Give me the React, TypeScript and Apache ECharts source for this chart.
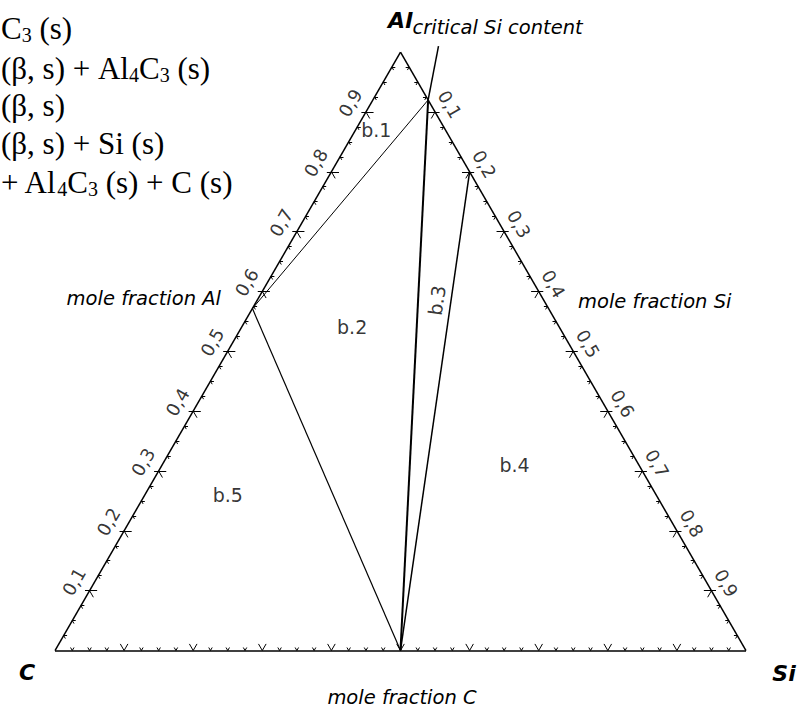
import React, { useEffect, useRef } from 'react';
import * as echarts from 'echarts';

const H = Math.sqrt(3) / 2;

// Edge tick labels (mole fractions with decimal comma)
const tickValues = [0.1, 0.2, 0.3, 0.4, 0.5, 0.6, 0.7, 0.8, 0.9];
const tickLabels = ['0,1', '0,2', '0,3', '0,4', '0,5', '0,6', '0,7', '0,8', '0,9'];
const minorStep = 0.025;

// Compositions as [C, Al, Si] mole fractions
const ptC = [1, 0, 0];
const ptAl = [0, 1, 0];
const ptSi = [0, 0, 1];
const ptAl4C3 = [3 / 7, 4 / 7, 0];
const ptSiC = [0.5, 0, 0.5];
const ptLiqCritical = [0, 0.92, 0.08];
const ptLiqSat = [0, 0.8, 0.2];
const ptPointerEnd = [-0.06, 1.01, 0.05];

// Phase-field labels and their compositions
const regionNames = ['b.1', 'b.2', 'b.3', 'b.4', 'b.5'];
const regionComps = [
  [0.1, 0.87, 0.03],
  [0.3, 0.54, 0.16],
  [0.155, 0.585, 0.26],
  [0.18, 0.31, 0.51],
  [0.62, 0.26, 0.12],
];
const regionRotate = [0, 0, 82, 0, 0];

// Phase assemblages of the fields (rich-text markup for subscripts)
const legendLines = [
  '{n|C}{s|3}{n| (s)}',
  '{n|(β, s) + Al}{s|4}{n|C}{s|3}{n| (s)}',
  '{n|(β, s)}',
  '{n|(β, s) + Si (s)}',
  '{n|+ Al}{s|4}{n|C}{s|3}{n| (s) + C (s)}',
];
const legendY = [28, 68, 105, 143, 182];

const toXY = (p: number[]) => [p[2] + p[1] / 2, p[1] * H];

const SANS = 'DejaVu Sans';
const SERIF = 'Liberation Serif';

function buildTicks() {
  const segs: any[] = [];
  const n = Math.round(1 / minorStep);
  for (let i = 1; i < n; i++) {
    const f = i * minorStep;
    const major = i % 4 === 0;
    const len = major ? 0.011 : 0.005;
    // bottom edge: C fraction
    const b = [1 - f, 0];
    // left edge: Al fraction
    const l = [f / 2, f * H];
    // right edge: Si fraction
    const r = [f + (1 - f) / 2, (1 - f) * H];
    const dirs: [number[], number[][]][] = [
      [b, [[-0.5, H], [0.5, H]]],
      [l, major ? [[1, 0], [0.5, -H], [-0.6, 0]] : [[1, 0], [0.5, -H]]],
      [r, major ? [[-1, 0], [-0.5, -H], [0.6, 0]] : [[-1, 0], [-0.5, -H]]],
    ];
    dirs.forEach(([p, ds]) => {
      ds.forEach((d) => {
        segs.push({ coords: [p, [p[0] + d[0] * len, p[1] + d[1] * len]] });
      });
    });
  }
  return segs;
}

function buildOption() {
  const off = 0.026;
  const bottomLabels = tickValues.map((v, i) => ({
    name: tickLabels[i],
    value: [1 - v, -0.0285],
  }));
  const leftLabels = tickValues.map((v, i) => ({
    name: tickLabels[i],
    value: [v / 2 - off * H, v * H + off * 0.5],
  }));
  const rightLabels = tickValues.map((v, i) => ({
    name: tickLabels[i],
    value: [v + (1 - v) / 2 + off * H * 0.95, (1 - v) * H + off * 0.42],
  }));

  const tickLabelStyle = {
    show: true,
    position: 'inside',
    formatter: '{b}',
    color: '#000',
    fontFamily: SANS,
    fontSize: 18,
  };

  const labelSeries = (data: any[], rotate: number) => ({
    type: 'scatter',
    symbolSize: 0,
    silent: true,
    data,
    label: { ...tickLabelStyle, rotate },
  });

  const boundaries = [
    { coords: [toXY(ptAl4C3), toXY(ptLiqCritical)], lineStyle: { width: 1 } },
    { coords: [toXY(ptAl4C3), toXY(ptSiC)], lineStyle: { width: 1.2 } },
    { coords: [toXY(ptLiqCritical), toXY(ptSiC)], lineStyle: { width: 2 } },
    { coords: [toXY(ptLiqSat), toXY(ptSiC)], lineStyle: { width: 1.5 } },
    { coords: [toXY(ptLiqCritical), toXY(ptPointerEnd)], lineStyle: { width: 1.5 } },
  ];

  return {
    animation: false,
    backgroundColor: '#fff',
    grid: { left: 55, right: 53, top: 52.1, bottom: 58.5 },
    xAxis: { type: 'value', min: 0, max: 1, show: false },
    yAxis: { type: 'value', min: 0, max: H, show: false },
    series: [
      {
        type: 'lines',
        coordinateSystem: 'cartesian2d',
        silent: true,
        clip: false,
        lineStyle: { color: '#000', width: 1.5, opacity: 1, curveness: 0 },
        data: [
          { coords: [toXY(ptC), toXY(ptSi)] },
          { coords: [toXY(ptSi), toXY(ptAl)] },
          { coords: [toXY(ptAl), toXY(ptC)] },
        ],
      },
      {
        type: 'lines',
        coordinateSystem: 'cartesian2d',
        silent: true,
        clip: false,
        lineStyle: { color: '#000', width: 1, opacity: 1, curveness: 0 },
        data: buildTicks(),
      },
      {
        type: 'lines',
        coordinateSystem: 'cartesian2d',
        silent: true,
        clip: false,
        lineStyle: { color: '#000', width: 1, opacity: 1, curveness: 0 },
        data: boundaries,
      },
      labelSeries(bottomLabels, 0),
      labelSeries(leftLabels, 60),
      labelSeries(rightLabels, -60),
      {
        type: 'scatter',
        symbolSize: 0,
        silent: true,
        data: regionNames.map((nm, i) => ({
          name: nm,
          value: toXY(regionComps[i]),
          label: { rotate: regionRotate[i] },
        })),
        label: { ...tickLabelStyle, fontSize: 19 },
      },
    ],
    graphic: [
      ...legendLines.map((t, i) => ({
        type: 'text',
        x: 1,
        y: legendY[i],
        silent: true,
        style: {
          text: t,
          align: 'left',
          verticalAlign: 'middle',
          rich: {
            n: { fontFamily: SERIF, fontSize: 31, lineHeight: 34, fill: '#000', verticalAlign: 'middle' },
            s: { fontFamily: SERIF, fontSize: 20, lineHeight: 19, fill: '#000', verticalAlign: 'bottom' },
          },
        },
      })),
      {
        type: 'text',
        x: 388,
        y: 20,
        silent: true,
        style: {
          text: '{a|Al}{b|critical Si content}',
          align: 'left',
          verticalAlign: 'middle',
          rich: {
            a: { fontFamily: SANS, fontWeight: 'bold', fontStyle: 'italic', fontSize: 22, lineHeight: 34, fill: '#000', verticalAlign: 'middle' },
            b: { fontFamily: SANS, fontStyle: 'italic', fontSize: 19.5, lineHeight: 15, fill: '#000', verticalAlign: 'bottom' },
          },
        },
      },
      {
        type: 'text',
        x: 27,
        y: 672,
        silent: true,
        style: { text: 'C', align: 'center', verticalAlign: 'middle', font: 'italic bold 22px "DejaVu Sans"', fill: '#000' },
      },
      {
        type: 'text',
        x: 784,
        y: 673,
        silent: true,
        style: { text: 'Si', align: 'center', verticalAlign: 'middle', font: 'italic bold 22px "DejaVu Sans"', fill: '#000' },
      },
      {
        type: 'text',
        x: 402,
        y: 697,
        silent: true,
        style: { text: 'mole fraction C', align: 'center', verticalAlign: 'middle', font: 'italic 19.5px "DejaVu Sans"', fill: '#000' },
      },
      {
        type: 'text',
        x: 221,
        y: 298,
        silent: true,
        style: { text: 'mole fraction Al', align: 'right', verticalAlign: 'middle', font: 'italic 19.5px "DejaVu Sans"', fill: '#000' },
      },
      {
        type: 'text',
        x: 578,
        y: 301,
        silent: true,
        style: { text: 'mole fraction Si', align: 'left', verticalAlign: 'middle', font: 'italic 19.5px "DejaVu Sans"', fill: '#000' },
      },
    ],
  };
}

export default function App() {
  const ref = useRef<HTMLDivElement>(null);
  useEffect(() => {
    const chart = echarts.init(ref.current as HTMLDivElement, undefined, { renderer: 'svg' });
    chart.setOption(buildOption() as any);
    return () => chart.dispose();
  }, []);
  return (
    <div
      ref={ref}
      style={{ position: 'absolute', left: 0, top: 0, width: 799, height: 709, background: '#fff' }}
    />
  );
}
